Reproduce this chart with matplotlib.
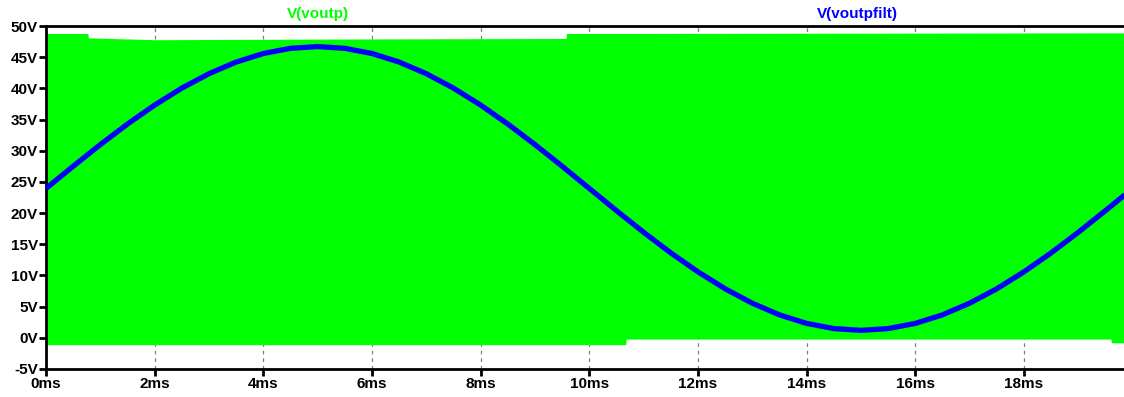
import matplotlib
matplotlib.use("Agg")
import matplotlib.pyplot as plt

plt.rcParams['font.family'] = ['Liberation Sans', 'DejaVu Sans']

# V(voutp) PWM envelope (ms, V)
green_t   = [0.0, 0.77, 0.78, 2.0, 5.0, 9.57, 9.58, 10.67, 10.68, 19.60, 19.61, 20.0]
green_top = [48.8, 48.8, 48.1, 47.8, 47.9, 48.0, 48.8, 48.8, 48.8, 48.9, 48.9, 48.9]
green_bot = [-1.1, -1.1, -1.1, -1.1, -1.1, -1.1, -1.1, -1.1, -0.2, -0.2, -0.8, -0.8]

# V(voutpfilt) (ms, V)
blue_t = [0.0, 0.5, 1.0, 1.5, 2.0, 2.5, 3.0, 3.5, 4.0, 4.5, 5.0, 5.5, 6.0, 6.5, 7.0,
          7.5, 8.0, 8.5, 9.0, 9.5, 10.0, 10.5, 11.0, 11.5, 12.0, 12.5, 13.0, 13.5,
          14.0, 14.5, 15.0, 15.5, 16.0, 16.5, 17.0, 17.5, 18.0, 18.5, 19.0, 19.5, 20.0]
blue_v = [23.95, 27.51, 30.98, 34.28, 37.32, 40.04, 42.35, 44.22, 45.59, 46.42, 46.70,
          46.42, 45.59, 44.22, 42.35, 40.04, 37.32, 34.28, 30.98, 27.51, 23.95, 20.39,
          16.92, 13.62, 10.58, 7.86, 5.55, 3.68, 2.31, 1.48, 1.20, 1.48, 2.31, 3.68,
          5.55, 7.86, 10.58, 13.62, 16.92, 20.39, 23.95]

x_ticks = [0, 2, 4, 6, 8, 10, 12, 14, 16, 18]
x_labels = ["0ms", "2ms", "4ms", "6ms", "8ms", "10ms", "12ms", "14ms", "16ms", "18ms"]
y_ticks = [-5, 0, 5, 10, 15, 20, 25, 30, 35, 40, 45, 50]
y_labels = ["-5V", "0V", "5V", "10V", "15V", "20V", "25V", "30V", "35V", "40V", "45V", "50V"]

W, H = 1124, 397
fig = plt.figure(figsize=(W / 100, H / 100), dpi=100)
left = 46 / W
right = (46 + 20 * 54.33) / W
bottom = 1 - 369 / H
top = 1 - 26 / H
ax = fig.add_axes([left, bottom, right - left, top - bottom])

ax.set_xlim(0, 20)
ax.set_ylim(-5, 50)

for x in x_ticks[1:]:
    ax.axvline(x, color='#808080', lw=0.9, ls=(0, (3, 3)), zorder=0)

ax.fill_between(green_t, green_bot, green_top, color='#00FF00', lw=0, zorder=2)
ax.plot(blue_t, blue_v, color='#0000FF', lw=3.8, solid_capstyle='butt', zorder=3)

ax.set_xticks(x_ticks)
ax.set_xticklabels(x_labels, fontsize=11, fontweight='bold')
ax.set_yticks(y_ticks)
ax.set_yticklabels(y_labels, fontsize=11, fontweight='bold')
ax.tick_params(axis='both', direction='out', length=5, width=2, color='black', pad=1)

for s in ['top', 'bottom', 'left']:
    ax.spines[s].set_linewidth(2)
    ax.spines[s].set_color('black')
ax.spines['right'].set_visible(False)

fig.text(318 / W, 1 - 14 / H, "V(voutp)", color='#00FF00', fontsize=11,
         fontweight='bold', ha='center', va='center')
fig.text(857 / W, 1 - 14 / H, "V(voutpfilt)", color='#0000FF', fontsize=11,
         fontweight='bold', ha='center', va='center')

fig.savefig("out.png", dpi=100)
